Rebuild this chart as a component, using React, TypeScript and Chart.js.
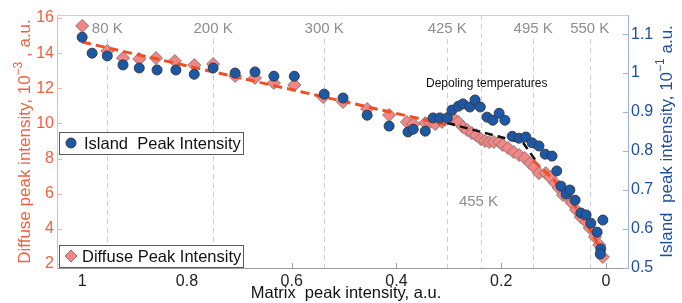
import React, { useEffect, useRef } from 'react';
import { Chart, registerables } from 'chart.js';
Chart.register(...registerables);

// ---------- data ----------
const islandX = [1.0, 0.981, 0.952, 0.922, 0.891, 0.857, 0.821, 0.786, 0.75, 0.708, 0.67, 0.634, 0.595, 0.538, 0.502, 0.456, 0.414, 0.378, 0.368, 0.345, 0.33, 0.317, 0.303, 0.294, 0.282, 0.273, 0.26, 0.25, 0.24, 0.227, 0.216, 0.204, 0.193, 0.179, 0.166, 0.153, 0.141, 0.128, 0.116, 0.103, 0.094, 0.086, 0.076, 0.069, 0.059, 0.048, 0.038, 0.029, 0.017, 0.006, 0.01, 0.011];
const islandY = [1.092, 1.051, 1.044, 1.021, 1.013, 1.008, 1.008, 0.997, 1.013, 1.0, 1.003, 0.992, 0.992, 0.946, 0.936, 0.892, 0.864, 0.849, 0.856, 0.851, 0.885, 0.885, 0.885, 0.905, 0.915, 0.921, 0.913, 0.931, 0.913, 0.887, 0.879, 0.897, 0.879, 0.838, 0.833, 0.836, 0.821, 0.813, 0.792, 0.787, 0.749, 0.71, 0.69, 0.7, 0.674, 0.641, 0.636, 0.615, 0.592, 0.623, 0.549, 0.536];

const diffuseX = [1.0, 0.952, 0.922, 0.891, 0.859, 0.823, 0.786, 0.75, 0.708, 0.67, 0.634, 0.595, 0.54, 0.502, 0.456, 0.414, 0.38, 0.368, 0.345, 0.336, 0.326, 0.313, 0.302, 0.292, 0.282, 0.273, 0.265, 0.256, 0.248, 0.239, 0.231, 0.223, 0.214, 0.204, 0.197, 0.187, 0.176, 0.166, 0.155, 0.145, 0.137, 0.128, 0.115, 0.107, 0.097, 0.09, 0.082, 0.074, 0.065, 0.057, 0.048, 0.038, 0.031, 0.021, 0.013, 0.006];
const diffuseY = [15.55, 14.12, 13.72, 13.67, 13.72, 13.55, 13.32, 13.38, 12.7, 12.59, 12.3, 12.19, 11.5, 11.22, 10.82, 10.48, 10.08, 9.96, 10.02, 10.08, 9.96, 10.08, 10.31, 10.31, 10.08, 9.79, 9.62, 9.45, 9.33, 9.11, 9.0, 8.94, 8.94, 8.94, 8.77, 8.6, 8.37, 8.2, 8.03, 7.74, 7.51, 7.17, 7.17, 6.94, 6.6, 6.32, 5.92, 5.81, 5.47, 5.07, 4.67, 4.39, 4.05, 3.54, 3.08, 2.4];

const fitAX = [1.0, 0.303];
const fitAY = [14.63, 9.91];
const fitBX = [0.139, 0.088, 0.04, 0.0];
const fitBY = [7.9, 6.4, 4.4, 2.3];
const fitCX = [0.303, 0.158, 0.135];
const fitCY = [10.02, 8.89, 7.92];

const tempLabels = ['80 K', '200 K', '300 K', '425 K', '495 K', '550 K'];
const tempX = [0.952, 0.75, 0.538, 0.303, 0.139, 0.031];
const lowTempLabel = '455 K';
const lowTempX = 0.239;

const xTicks = [1, 0.8, 0.6, 0.4, 0.2, 0];
const leftTicks = [2, 4, 6, 8, 10, 12, 14, 16];
const rightTicks = [0.5, 0.6, 0.7, 0.8, 0.9, 1.0, 1.1];

const islandLabel = 'Island  Peak Intensity';
const diffuseLabel = 'Diffuse Peak Intensity';
const annotationText = 'Depoling temperatures';
const xTitle = 'Matrix  peak intensity, a.u.';

// ---------- styles ----------
const FONT = '"Liberation Sans", Arial, Helvetica, sans-serif';
const RED_TXT = '#f2603f';
const BLUE_TXT = '#1d4f9e';
const BLUE_FILL = '#1b58a6';
const BLUE_EDGE = '#3a3a48';
const PINK_FILL = '#f48585';
const PINK_EDGE = '#8a7676';
const FIT_RED = '#f04e23';
const GRAY_TXT = '#8e8e8e';

function pts(xs: number[], ys: number[]) {
  return xs.map((x, i) => ({ x, y: ys[i] }));
}

function drawTitle(ctx: CanvasRenderingContext2D, parts: { t: string; sup?: boolean }[], cx: number, cy: number, rot: number, color: string, size: number) {
  ctx.save();
  ctx.translate(cx, cy);
  ctx.rotate(rot);
  ctx.fillStyle = color;
  ctx.textBaseline = 'middle';
  ctx.textAlign = 'left';
  const supSize = Math.round(size * 0.72);
  let total = 0;
  const widths = parts.map((p) => {
    ctx.font = `${p.sup ? supSize : size}px ${FONT}`;
    const w = ctx.measureText(p.t).width;
    total += w;
    return w;
  });
  let x = -total / 2;
  parts.forEach((p, i) => {
    ctx.font = `${p.sup ? supSize : size}px ${FONT}`;
    ctx.fillText(p.t, x, p.sup ? -size * 0.38 : 0);
    x += widths[i];
  });
  ctx.restore();
}

const decorPlugin = {
  id: 'decor',
  beforeDatasetsDraw(chart: any) {
    const ctx = chart.ctx as CanvasRenderingContext2D;
    const { top, bottom, left, right } = chart.chartArea;
    const xs = chart.scales.x;
    ctx.save();
    ctx.strokeStyle = '#cfcfcf';
    ctx.lineWidth = 1;
    ctx.beginPath();
    ctx.moveTo(left, top + 0.5);
    ctx.lineTo(right, top + 0.5);
    ctx.stroke();
    ctx.strokeStyle = '#cdcdcd';
    ctx.setLineDash([5, 4]);
    tempX.forEach((v) => {
      const px = Math.round(xs.getPixelForValue(v)) + 0.5;
      ctx.beginPath();
      ctx.moveTo(px, top + 24);
      ctx.lineTo(px, bottom);
      ctx.stroke();
    });
    const lp = Math.round(xs.getPixelForValue(lowTempX)) + 0.5;
    ctx.beginPath();
    ctx.moveTo(lp, top);
    ctx.lineTo(lp, bottom);
    ctx.stroke();
    ctx.setLineDash([]);
    ctx.font = `15px ${FONT}`;
    ctx.fillStyle = GRAY_TXT;
    ctx.textAlign = 'center';
    ctx.textBaseline = 'middle';
    tempLabels.forEach((t, i) => {
      ctx.fillText(t, xs.getPixelForValue(tempX[i]), top + 14);
    });
    const lw = ctx.measureText(lowTempLabel).width;
    ctx.fillStyle = '#ffffff';
    ctx.fillRect(lp - 3 - lw / 2, 192, lw + 6, 20);
    ctx.fillStyle = GRAY_TXT;
    ctx.fillText(lowTempLabel, lp - 3, 202);
    ctx.restore();
  },
  afterDraw(chart: any) {
    const ctx = chart.ctx as CanvasRenderingContext2D;
    const { top, bottom, left, right } = chart.chartArea;
    const xs = chart.scales.x;
    const yl = chart.scales.y;
    const yr = chart.scales.y1;
    ctx.save();
    ctx.lineWidth = 1;
    ctx.strokeStyle = '#a0a0a0';
    xTicks.forEach((v) => {
      const px = Math.round(xs.getPixelForValue(v)) + 0.5;
      ctx.beginPath();
      ctx.moveTo(px, bottom);
      ctx.lineTo(px, bottom - 5);
      ctx.stroke();
    });
    ctx.strokeStyle = '#f6b4a2';
    leftTicks.forEach((v) => {
      const py = Math.round(yl.getPixelForValue(v)) + 0.5;
      ctx.beginPath();
      ctx.moveTo(left, py);
      ctx.lineTo(left + 5, py);
      ctx.stroke();
    });
    ctx.strokeStyle = '#9fb0dc';
    rightTicks.forEach((v) => {
      const py = Math.round(yr.getPixelForValue(v)) + 0.5;
      ctx.beginPath();
      ctx.moveTo(right, py);
      ctx.lineTo(right - 5, py);
      ctx.stroke();
    });

    ctx.font = `12px ${FONT}`;
    ctx.fillStyle = '#111';
    ctx.textAlign = 'left';
    ctx.textBaseline = 'middle';
    ctx.fillText(annotationText, 426, 84);

    const drawBox = (y0: number, y1: number) => {
      ctx.fillStyle = '#ffffff';
      ctx.fillRect(59, y0, 184, y1 - y0);
      ctx.strokeStyle = '#5a5a5a';
      ctx.lineWidth = 1;
      ctx.strokeRect(59.5, y0 + 0.5, 184, y1 - y0);
    };
    drawBox(132, 154);
    ctx.beginPath();
    ctx.arc(71, 143, 5, 0, Math.PI * 2);
    ctx.fillStyle = BLUE_FILL;
    ctx.fill();
    ctx.strokeStyle = BLUE_EDGE;
    ctx.stroke();
    ctx.font = `16.5px ${FONT}`;
    ctx.fillStyle = '#111';
    ctx.textBaseline = 'middle';
    ctx.fillText(islandLabel, 84, 144);

    drawBox(245, 267);
    ctx.beginPath();
    ctx.moveTo(71, 250);
    ctx.lineTo(77, 256);
    ctx.lineTo(71, 262);
    ctx.lineTo(65, 256);
    ctx.closePath();
    ctx.fillStyle = PINK_FILL;
    ctx.fill();
    ctx.strokeStyle = PINK_EDGE;
    ctx.stroke();
    ctx.fillStyle = '#111';
    ctx.fillText(diffuseLabel, 82, 257);

    drawTitle(ctx, [{ t: xTitle }], 346, 293, 0, '#111', 16.5);
    drawTitle(
      ctx,
      [{ t: 'Diffuse peak intensity, 10' }, { t: '\u22123', sup: true }, { t: ' , a.u.' }],
      25,
      (top + bottom) / 2,
      -Math.PI / 2,
      RED_TXT,
      17
    );
    drawTitle(
      ctx,
      [{ t: 'Island  peak intensity, 10' }, { t: '\u22121', sup: true }, { t: ' a.u.' }],
      667,
      (top + bottom) / 2,
      -Math.PI / 2,
      BLUE_TXT,
      17
    );
    ctx.restore();
  },
};

export default function App() {
  const ref = useRef<HTMLCanvasElement>(null);
  useEffect(() => {
    if (!ref.current) return;
    const chart = new Chart(ref.current, {
      type: 'scatter',
      data: {
        datasets: [
          {
            label: islandLabel,
            data: pts(islandX, islandY),
            yAxisID: 'y1',
            pointStyle: 'circle',
            pointRadius: 5,
            pointBackgroundColor: BLUE_FILL,
            pointBorderColor: BLUE_EDGE,
            pointBorderWidth: 1,
            order: 0,
          } as any,
          {
            label: 'fitA',
            data: pts(fitAX, fitAY),
            yAxisID: 'y',
            showLine: true,
            pointRadius: 0,
            borderColor: FIT_RED,
            borderWidth: 3,
            borderDash: [9, 5],
            order: 1,
          },
          {
            label: 'fitB',
            data: pts(fitBX, fitBY),
            yAxisID: 'y',
            showLine: true,
            pointRadius: 0,
            borderColor: FIT_RED,
            borderWidth: 3,
            borderDash: [9, 5],
            tension: 0.3,
            order: 1,
          },
          {
            label: 'fitC',
            data: pts(fitCX, fitCY),
            yAxisID: 'y',
            showLine: true,
            pointRadius: 0,
            borderColor: '#111111',
            borderWidth: 2.5,
            borderDash: [8, 5],
            order: 1,
          },
          {
            label: diffuseLabel,
            data: pts(diffuseX, diffuseY),
            yAxisID: 'y',
            pointStyle: 'rectRot',
            pointRadius: 6.5,
            pointBackgroundColor: PINK_FILL,
            pointBorderColor: PINK_EDGE,
            pointBorderWidth: 1,
            order: 2,
          },
        ],
      },
      options: {
        animation: false,
        responsive: false,
        events: [],
        layout: { padding: { top: 15, left: 0, right: 0, bottom: 0 } },
        plugins: { legend: { display: false }, tooltip: { enabled: false } },
        scales: {
          x: {
            type: 'linear',
            position: 'bottom',
            reverse: true,
            min: -0.042,
            max: 1.048,
            grid: { display: false, drawTicks: false },
            border: { display: true, color: '#9a9a9a', width: 1 },
            ticks: {
              color: '#222',
              font: { size: 16, family: FONT },
              padding: 4,
              maxRotation: 0,
              callback: (v: any) => String(Math.round(Number(v) * 10) / 10),
            },
            afterBuildTicks: (s: any) => {
              s.ticks = xTicks.map((value) => ({ value }));
            },
            afterFit: (s: any) => {
              s.height = 35;
            },
          },
          y: {
            type: 'linear',
            position: 'left',
            min: 1.77,
            max: 16.17,
            grid: { display: false, drawTicks: false },
            border: { display: true, color: '#f6b4a2', width: 1 },
            ticks: {
              color: RED_TXT,
              font: { size: 16, family: FONT },
              padding: 3,
              callback: (v: any) => String(Math.round(Number(v))),
            },
            afterBuildTicks: (s: any) => {
              s.ticks = leftTicks.map((value) => ({ value }));
            },
            afterFit: (s: any) => {
              s.width = 57;
            },
          },
          y1: {
            type: 'linear',
            position: 'right',
            min: 0.5,
            max: 1.149,
            grid: { display: false, drawTicks: false },
            border: { display: true, color: '#9fb0dc', width: 1 },
            ticks: {
              color: BLUE_TXT,
              font: { size: 16, family: FONT },
              padding: 3,
              callback: (v: any) => String(Math.round(Number(v) * 10) / 10),
            },
            afterBuildTicks: (s: any) => {
              s.ticks = rightTicks.map((value) => ({ value }));
            },
            afterFit: (s: any) => {
              s.width = 54;
            },
          },
        },
      } as any,
      plugins: [decorPlugin],
    });
    return () => chart.destroy();
  }, []);
  return (
    <div style={{ position: 'absolute', left: 0, top: 0, width: 682, height: 303, background: '#fff' }}>
      <canvas ref={ref} width={682} height={303} style={{ display: 'block' }} />
    </div>
  );
}
